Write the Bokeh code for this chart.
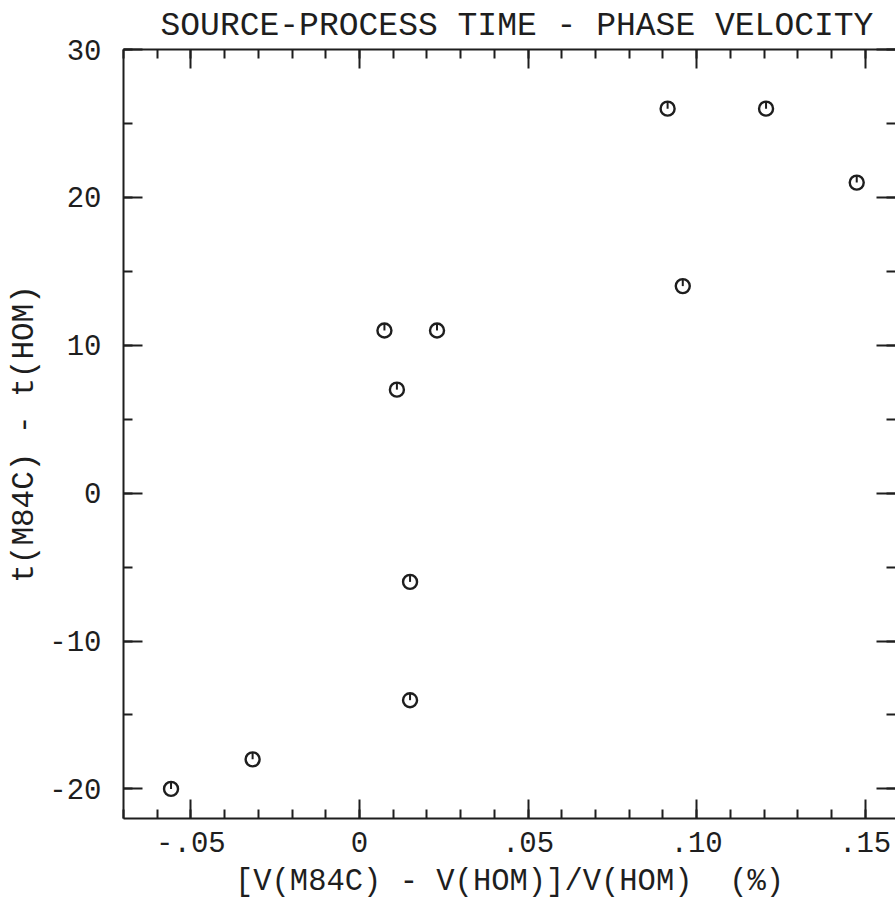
from bokeh.plotting import figure
from bokeh.models import LinearAxis, FixedTicker, Range1d, CustomJSTickFormatter, Title
from bokeh.embed import file_html
from bokeh.resources import INLINE
import numpy as np

# data
dv_percent = [0.0914, 0.1206, 0.1475, 0.0959, 0.0074, 0.0230, 0.0111, 0.0150, 0.0150, -0.0317, -0.0559]
dt_seconds = [26, 26, 21, 14, 11, 11, 7, -6, -14, -18, -20]

x_ticks = [-0.05, 0, 0.05, 0.10, 0.15]
x_tick_labels = ["-.05", "0", ".05", ".10", ".15"]
y_ticks = [-20, -10, 0, 10, 20, 30]
y_tick_labels = ["-20", "-10", "0", "10", "20", "30"]

title_text = "SOURCE-PROCESS TIME - PHASE VELOCITY"
x_label = "[V(M84C) - V(HOM)]/V(HOM)\u00a0\u00a0(%)"
y_label = "t(M84C) - t(HOM)"

INK = "#1e1e1e"
FONT = "Liberation Mono"

x_minor = [round(v, 2) for v in np.arange(-0.07, 0.1601, 0.01)]
y_minor = list(range(-20, 31, 5))

p = figure(width=895, height=902, output_backend="svg", toolbar_location=None,
           x_range=Range1d(-0.07, 0.159), y_range=Range1d(-22, 30),
           x_axis_location=None, y_axis_location=None,
           min_border_left=123, min_border_right=0, min_border_top=48, min_border_bottom=84,
           background_fill_color="white", border_fill_color="white")
p.grid.visible = False
p.outline_line_color = None

p.title = Title(text=title_text, align="left", text_font=FONT, text_font_size="33px",
                text_font_style="normal", text_color=INK, offset=37, standoff=10)

def style_axis(ax, ticks, minor, labels=None, show=True):
    ax.ticker = FixedTicker(ticks=ticks, minor_ticks=minor)
    ax.major_tick_in = 19
    ax.major_tick_out = 0
    ax.minor_tick_in = 9
    ax.minor_tick_out = 0
    ax.major_tick_line_color = INK
    ax.minor_tick_line_color = INK
    ax.major_tick_line_width = 2
    ax.minor_tick_line_width = 2
    ax.axis_line_color = INK
    ax.axis_line_width = 2
    if show:
        ax.major_label_overrides = dict(zip(ticks, labels))
        ax.major_label_text_font = FONT
        ax.major_label_text_font_size = "29px"
        ax.major_label_text_color = INK
    else:
        ax.formatter = CustomJSTickFormatter(code="return ''")
        ax.major_label_standoff = 0
        ax.major_label_text_font_size = "1px"

bottom = LinearAxis()
style_axis(bottom, x_ticks, x_minor, x_tick_labels)
bottom.major_label_standoff = 13
bottom.axis_label = x_label
bottom.axis_label_text_font = FONT
bottom.axis_label_text_font_size = "30.5px"
bottom.axis_label_text_font_style = "normal"
bottom.axis_label_text_color = INK
bottom.axis_label_standoff = 10
p.add_layout(bottom, "below")

top = LinearAxis()
style_axis(top, x_ticks, x_minor, show=False)
p.add_layout(top, "above")

left = LinearAxis()
style_axis(left, y_ticks, y_minor, y_tick_labels)
left.major_label_standoff = 22
left.axis_label = y_label
left.axis_label_text_font = FONT
left.axis_label_text_font_size = "31px"
left.axis_label_text_font_style = "normal"
left.axis_label_text_color = INK
left.axis_label_standoff = 4
p.add_layout(left, "left")

right = LinearAxis()
style_axis(right, y_ticks, y_minor, show=False)
right.axis_line_color = None
p.add_layout(right, "right")

p.scatter(dv_percent, dt_seconds, marker="circle", size=14, fill_color=None,
          line_color=INK, line_width=2.4)
p.ray(dv_percent, dt_seconds, length=7, angle=np.pi / 2, length_units="screen",
      line_color=INK, line_width=2)

open("out.html", "w").write(file_html(p, INLINE))
